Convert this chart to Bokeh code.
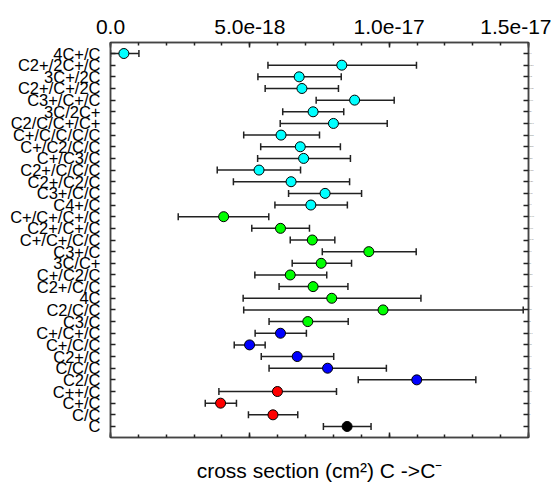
from bokeh.plotting import figure
from bokeh.models import (ColumnDataSource, FactorRange, Range1d, FixedTicker,
                          LinearAxis, CategoricalAxis, Whisker, TeeHead)
from bokeh.embed import file_html
from bokeh.resources import INLINE

# categories, top to bottom
labels = ["4C+/C", "C2+/2C+/C", "3C+/2C", "C2+/C+/2C", "C3+/C+/C", "3C/2C+",
          "C2/C/C+/C+", "C+/C/C/C/C", "C+/C2/C/C", "C+/C3/C", "C2+/C/C/C",
          "C2+/C2/C", "C3+/C/C", "C4+/C", "C+/C+/C+/C", "C2+/C+/C", "C+/C+/C/C",
          "C3+/C", "3C/C+", "C+/C2/C", "C2+/C/C", "4C", "C2/C/C", "C3/C",
          "C+/C+/C", "C+/C/C", "C2+/C", "C/C/C", "C2/C", "C++/C", "C+/C", "C/C", "C"]

# cross sections (cm^2)
cs = [0.48e-18, 8.30e-18, 6.77e-18, 6.87e-18, 8.76e-18, 7.27e-18,
      8.00e-18, 6.12e-18, 6.81e-18, 6.93e-18, 5.33e-18,
      6.48e-18, 7.70e-18, 7.19e-18, 4.06e-18, 6.10e-18, 7.24e-18,
      9.27e-18, 7.56e-18, 6.45e-18, 7.27e-18, 7.94e-18, 9.78e-18, 7.08e-18,
      6.10e-18, 4.99e-18, 6.70e-18, 7.79e-18, 10.99e-18, 5.99e-18, 3.95e-18, 5.83e-18, 8.49e-18]
cs_low = [0.0, 5.65e-18, 5.29e-18, 5.55e-18, 7.38e-18, 6.18e-18,
          6.09e-18, 4.78e-18, 5.39e-18, 5.28e-18, 3.83e-18,
          4.41e-18, 6.39e-18, 5.90e-18, 2.43e-18, 5.07e-18, 6.45e-18,
          7.60e-18, 6.52e-18, 5.18e-18, 6.05e-18, 4.76e-18, 4.78e-18, 5.69e-18,
          5.19e-18, 4.44e-18, 5.41e-18, 5.69e-18, 8.89e-18, 3.89e-18, 3.40e-18, 4.95e-18, 7.64e-18]
cs_high = [1.02e-18, 10.98e-18, 8.28e-18, 8.18e-18, 10.18e-18, 8.37e-18,
           9.93e-18, 7.50e-18, 8.25e-18, 8.61e-18, 6.82e-18,
           8.58e-18, 9.01e-18, 8.50e-18, 5.68e-18, 7.14e-18, 8.05e-18,
           10.97e-18, 8.65e-18, 7.76e-18, 8.52e-18, 11.14e-18, 14.81e-18, 8.53e-18,
           7.03e-18, 5.55e-18, 8.01e-18, 9.90e-18, 13.11e-18, 8.11e-18, 4.52e-18, 6.72e-18, 9.35e-18]
colors = ["#00FFFF"] * 14 + ["#00FF00"] * 10 + ["#0000FF"] * 5 + ["#FF0000"] * 3 + ["#000000"]

tick_values = [0.0, 5e-18, 1e-17, 1.5e-17]
tick_labels = ["0.0", "5.0e-18", "1.0e-17", "1.5e-17"]
minor_values = [k * 1e-18 for k in range(16)]
x_label = "cross section (cm\u00b2) C ->C\u207b"

src = ColumnDataSource(dict(cat=labels, x=cs, lo=cs_low, hi=cs_high, c=colors))

p = figure(width=551, height=487, output_backend="svg", toolbar_location=None,
           x_range=Range1d(0, 1.5e-17),
           y_range=FactorRange(factors=labels[::-1], range_padding=0.027),
           x_axis_location="above", min_border_left=110, min_border_right=23,
           min_border_top=42, min_border_bottom=50)
p.grid.visible = False
p.outline_line_color = "#444444"
p.outline_line_width = 1.5

ticker = FixedTicker(ticks=tick_values, minor_ticks=minor_values)

top = p.xaxis[0]
top.ticker = ticker
top.major_label_overrides = dict(zip(tick_values, tick_labels))
top.major_label_text_font = "Liberation Sans"
top.major_label_text_font_size = "21px"
top.major_label_text_color = "#000000"
top.major_label_standoff = 9

bottom = LinearAxis(ticker=ticker, axis_label=x_label)
bottom.major_label_overrides = {t: "" for t in tick_values}
bottom.major_label_text_font_size = "1px"
bottom.major_label_standoff = 0
bottom.axis_label_standoff = 21
bottom.axis_label_text_font = "Liberation Sans"
bottom.axis_label_text_font_size = "21px"
bottom.axis_label_text_font_style = "normal"
bottom.axis_label_text_color = "#000000"
p.add_layout(bottom, "below")

left = p.yaxis[0]
left.major_label_text_font = "Liberation Sans"
left.major_label_text_font_size = "16.5px"
left.major_label_text_color = "#000000"
left.major_label_standoff = 10

right = CategoricalAxis()
right.major_label_overrides = {f: "" for f in labels}
right.major_label_text_font_size = "1px"
right.major_label_standoff = 0
p.add_layout(right, "right")

for ax in [top, bottom]:
    ax.major_tick_in = 5
    ax.major_tick_out = 0
    ax.minor_tick_in = 3
    ax.minor_tick_out = 0
for ax in [left, right]:
    ax.major_tick_in = 5
    ax.major_tick_out = 0
for ax in [top, bottom, left, right]:
    ax.axis_line_color = "#444444"
    ax.axis_line_width = 1.5
    ax.major_tick_line_color = "#222222"
    ax.major_tick_line_width = 1.5
    ax.minor_tick_line_color = "#222222"
    ax.minor_tick_line_width = 1.5

w = Whisker(base="cat", lower="lo", upper="hi", dimension="width", source=src,
            line_color="#222222", line_width=1.5,
            lower_head=TeeHead(size=7, line_color="#222222", line_width=1.5),
            upper_head=TeeHead(size=7, line_color="#222222", line_width=1.5))
p.add_layout(w)

p.scatter("x", "cat", source=src, size=10, fill_color="c", line_color="#000000",
          line_width=1)

open("out.html", "w").write(file_html(p, INLINE))
